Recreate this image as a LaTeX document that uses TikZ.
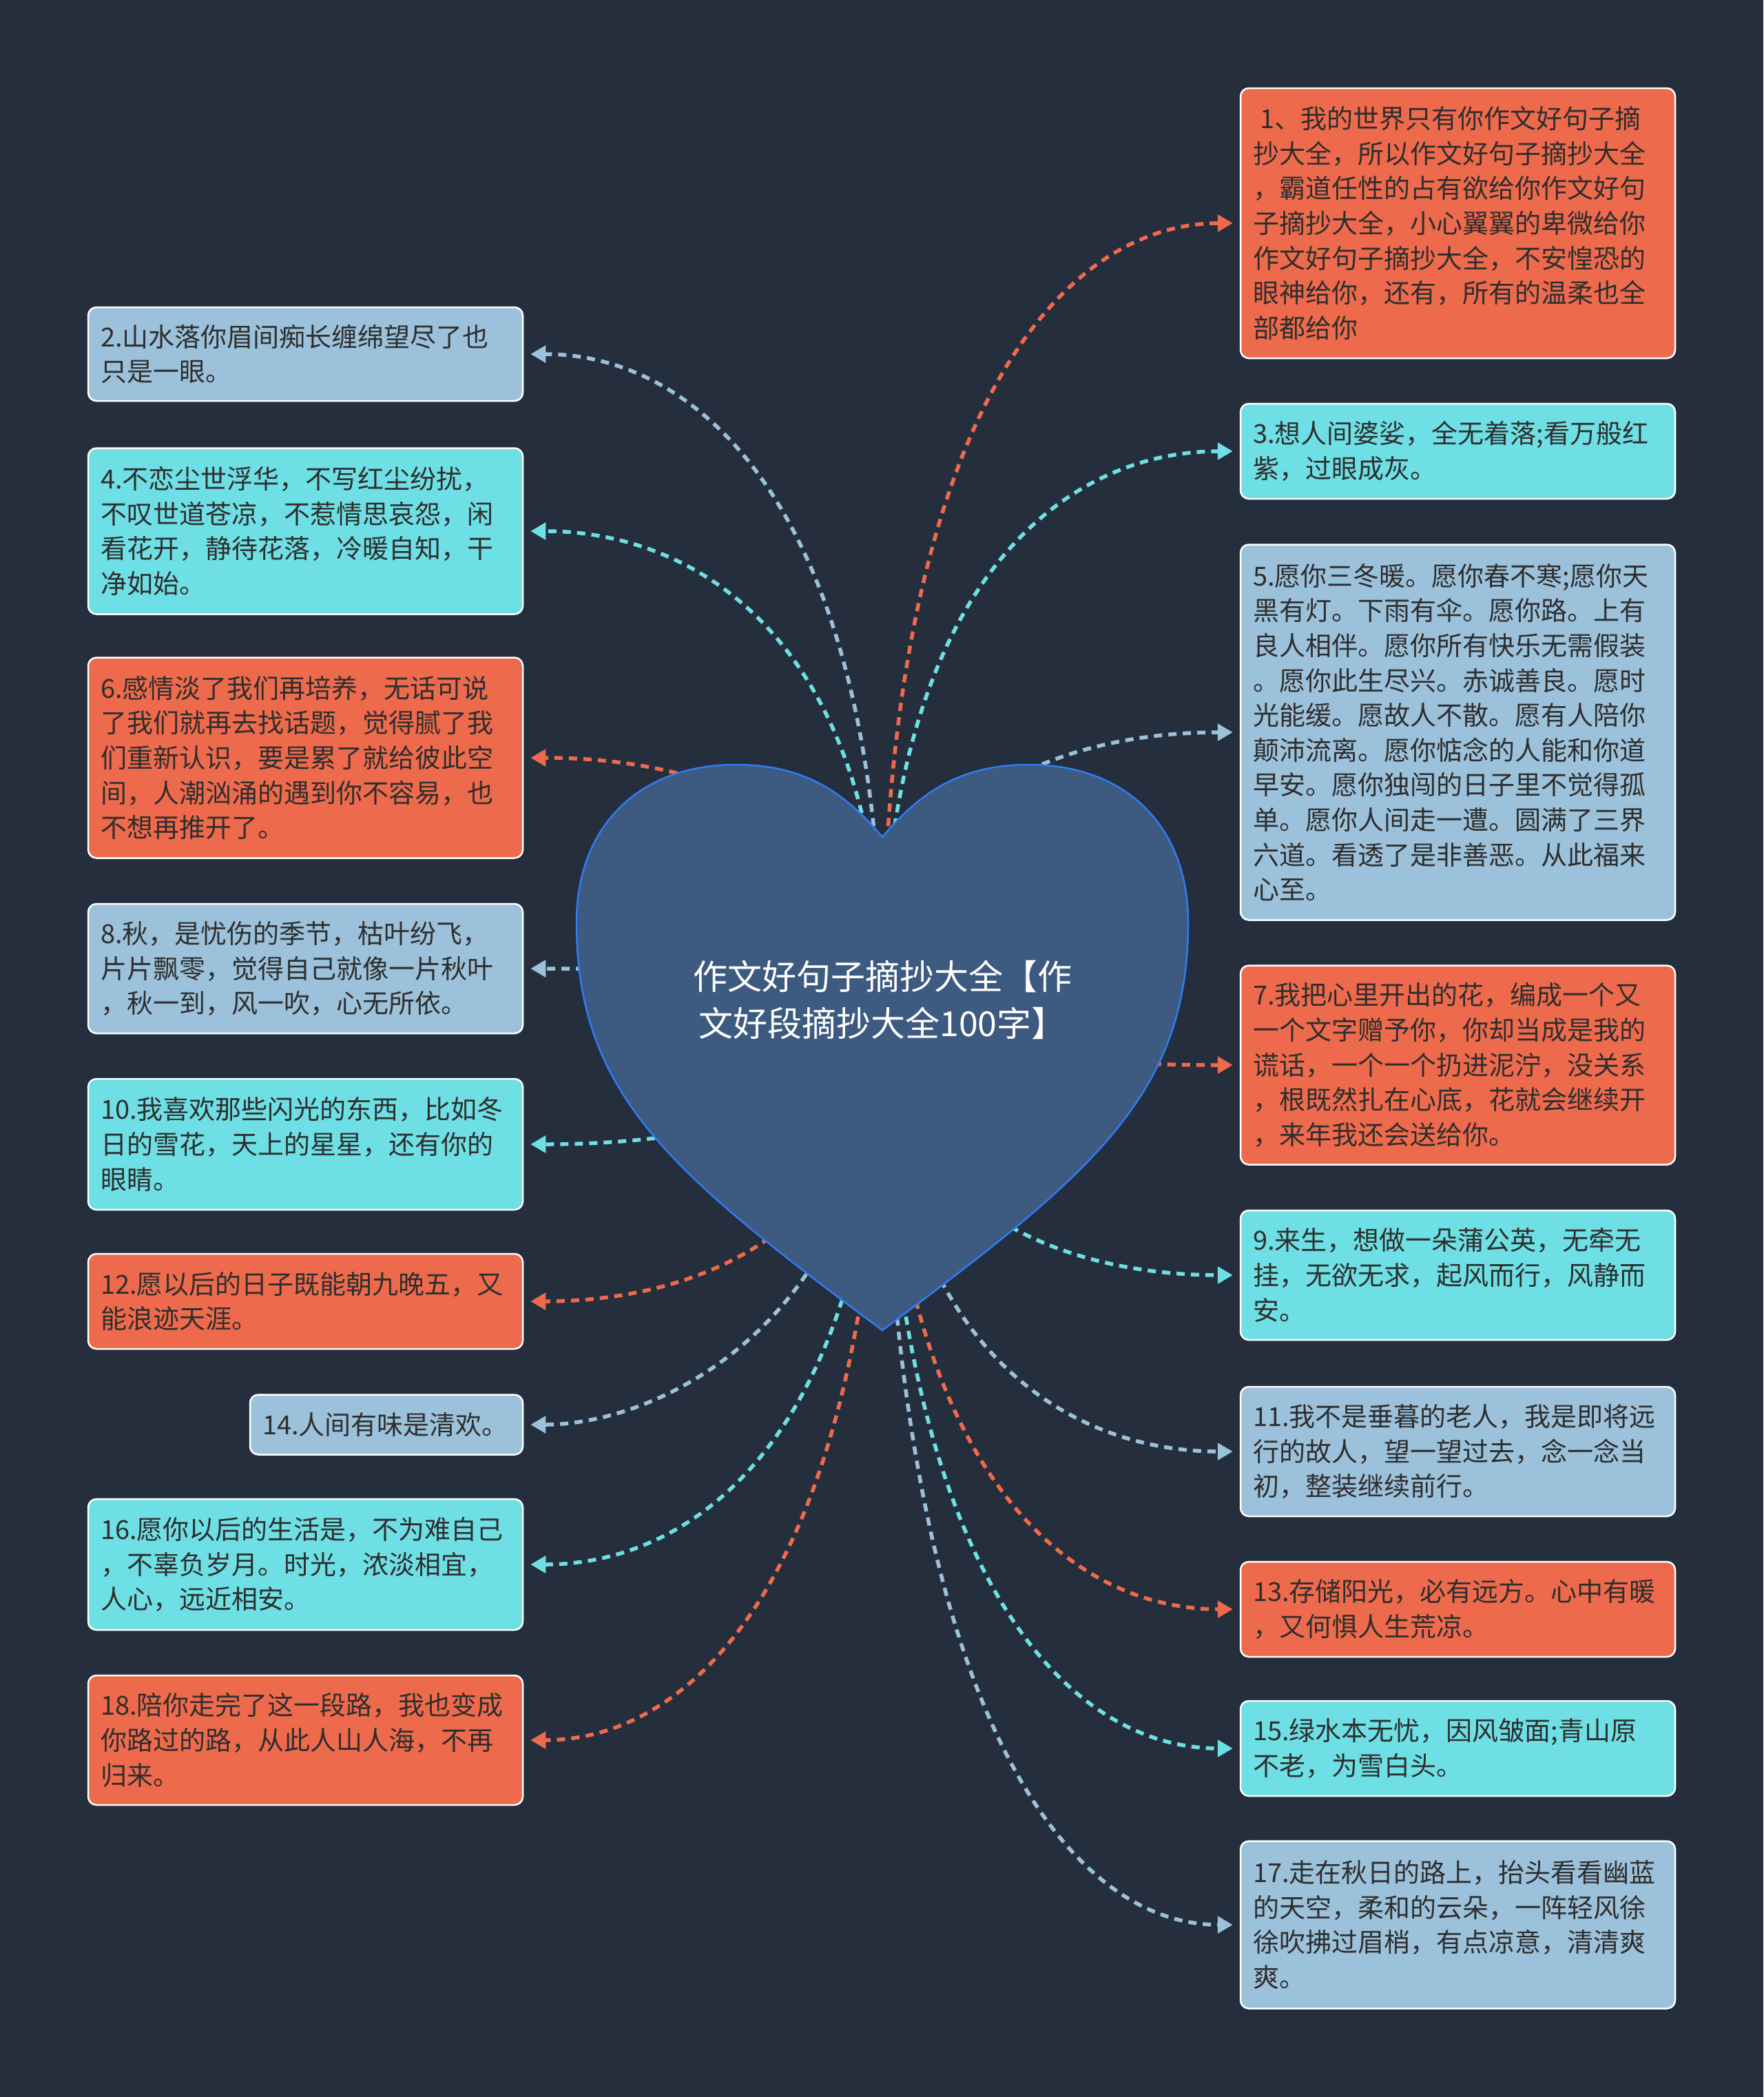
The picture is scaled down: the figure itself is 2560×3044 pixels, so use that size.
\documentclass[tikz,border=0pt]{standalone}
\usepackage{fontspec}
\usetikzlibrary{arrows.meta}
\newfontfamily\cjk{Noto Sans CJK SC}
\definecolor{bgc}{HTML}{252E3C}
\definecolor{cred}{HTML}{EE6A4C}
\definecolor{ccyan}{HTML}{6EDFE4}
\definecolor{cblue}{HTML}{9CC1DA}
\definecolor{heartfill}{HTML}{3D5A80}
\definecolor{heartline}{HTML}{2F7CF6}
\definecolor{txt}{HTML}{2E2E2E}
\pgfdeclarelayer{bglayer}
\pgfdeclarelayer{connlayer}
\pgfdeclarelayer{heartlayer}
\pgfsetlayers{bglayer,connlayer,heartlayer,main}
\tikzset{
  box/.style={draw=white, line width=2.5pt, rounded corners=12pt, text=txt,
    font=\cjk\fontsize{38pt}{50.6pt}\selectfont, align=left, text width=595pt,
    inner xsep=18pt, inner ysep=0pt, anchor=center},
  redbox/.style={box, fill=cred},
  cyanbox/.style={box, fill=ccyan},
  bluebox/.style={box, fill=cblue},
  conn/.style={line width=5.5pt, dash pattern=on 12pt off 9pt,
    -{Triangle[length=22pt,width=24pt]}, shorten >=10pt},
}
\begin{document}
\begin{tikzpicture}[x=1pt,y=-1pt]
\useasboundingbox (0,0) rectangle (2560,3044);
\begin{pgfonlayer}{bglayer}
\fill[bgc] (0,0) rectangle (2560,3044);
\end{pgfonlayer}

% root text
\node[font=\cjk\fontsize{50pt}{68pt}\selectfont, text=white, align=center] (root) at (1281,1451)
  {作文好句子摘抄大全【作\\文好段摘抄大全100字】};

% right column
\node[redbox, minimum height=392pt] (r1) at (2116.5,324) {\hspace*{10pt}1、我的世界只有你作文好句子摘\\抄大全，所以作文好句子摘抄大全\\，霸道任性的占有欲给你作文好句\\子摘抄大全，小心翼翼的卑微给你\\作文好句子摘抄大全，不安惶恐的\\眼神给你，还有，所有的温柔也全\\部都给你};
\node[cyanbox, minimum height=138pt] (r3) at (2116.5,655) {3.想人间婆娑，全无着落;看万般红\\紫，过眼成灰。};
\node[bluebox, minimum height=545pt] (r5) at (2116.5,1063) {5.愿你三冬暖。愿你春不寒;愿你天\\黑有灯。下雨有伞。愿你路。上有\\良人相伴。愿你所有快乐无需假装\\。愿你此生尽兴。赤诚善良。愿时\\光能缓。愿故人不散。愿有人陪你\\颠沛流离。愿你惦念的人能和你道\\早安。愿你独闯的日子里不觉得孤\\单。愿你人间走一遭。圆满了三界\\六道。看透了是非善恶。从此福来\\心至。};
\node[redbox, minimum height=289pt] (r7) at (2116.5,1546) {7.我把心里开出的花，编成一个又\\一个文字赠予你，你却当成是我的\\谎话，一个一个扔进泥泞，没关系\\，根既然扎在心底，花就会继续开\\，来年我还会送给你。};
\node[cyanbox, minimum height=188pt] (r9) at (2116.5,1851) {9.来生，想做一朵蒲公英，无牵无\\挂，无欲无求，起风而行，风静而\\安。};
\node[bluebox, minimum height=188pt] (r11) at (2116.5,2107) {11.我不是垂暮的老人，我是即将远\\行的故人，望一望过去，念一念当\\初，整装继续前行。};
\node[redbox, minimum height=138pt] (r13) at (2116.5,2336) {13.存储阳光，必有远方。心中有暖\\，又何惧人生荒凉。};
\node[cyanbox, minimum height=138pt] (r15) at (2116.5,2538) {15.绿水本无忧，因风皱面;青山原\\不老，为雪白头。};
\node[bluebox, minimum height=243pt] (r17) at (2116.5,2794) {17.走在秋日的路上，抬头看看幽蓝\\的天空，柔和的云朵，一阵轻风徐\\徐吹拂过眉梢，有点凉意，清清爽\\爽。};

% left column
\node[bluebox, minimum height=136pt] (l2) at (443.5,514) {2.山水落你眉间痴长缠绵望尽了也\\只是一眼。};
\node[cyanbox, minimum height=241pt] (l4) at (443.5,771) {4.不恋尘世浮华，不写红尘纷扰，\\不叹世道苍凉，不惹情思哀怨，闲\\看花开，静待花落，冷暖自知，干\\净如始。};
\node[redbox, minimum height=291pt] (l6) at (443.5,1100) {6.感情淡了我们再培养，无话可说\\了我们就再去找话题，觉得腻了我\\们重新认识，要是累了就给彼此空\\间，人潮汹涌的遇到你不容易，也\\不想再推开了。};
\node[bluebox, minimum height=188pt] (l8) at (443.5,1406) {8.秋，是忧伤的季节，枯叶纷飞，\\片片飘零，觉得自己就像一片秋叶\\，秋一到，风一吹，心无所依。};
\node[cyanbox, minimum height=190pt] (l10) at (443.5,1661) {10.我喜欢那些闪光的东西，比如冬\\日的雪花，天上的星星，还有你的\\眼睛。};
\node[redbox, minimum height=138pt] (l12) at (443.5,1889) {12.愿以后的日子既能朝九晚五，又\\能浪迹天涯。};
\node[bluebox, minimum height=87pt, text width=360pt] (l14) at (561,2068) {14.人间有味是清欢。};
\node[cyanbox, minimum height=190pt] (l16) at (443.5,2271) {16.愿你以后的生活是，不为难自己\\，不辜负岁月。时光，浓淡相宜，\\人心，远近相安。};
\node[redbox, minimum height=188pt] (l18) at (443.5,2526) {18.陪你走完了这一段路，我也变成\\你路过的路，从此人山人海，不再\\归来。};

% connectors
\begin{pgfonlayer}{connlayer}
\draw[conn, cred]  (root.center) .. controls +(0,-845) and +(-260,0) .. (r1.west);
\draw[conn, ccyan] (root.center) .. controls +(0,-597) and +(-260,0) .. (r3.west);
\draw[conn, cblue] (root.center) .. controls +(0,-291) and +(-260,0) .. (r5.west);
\draw[conn, cred]  (root.center) .. controls +(0,71)   and +(-260,0) .. (r7.west);
\draw[conn, ccyan] (root.center) .. controls +(0,300)  and +(-260,0) .. (r9.west);
\draw[conn, cblue] (root.center) .. controls +(0,492)  and +(-260,0) .. (r11.west);
\draw[conn, cred]  (root.center) .. controls +(0,664)  and +(-260,0) .. (r13.west);
\draw[conn, ccyan] (root.center) .. controls +(0,815)  and +(-260,0) .. (r15.west);
\draw[conn, cblue] (root.center) .. controls +(0,1007) and +(-260,0) .. (r17.west);
\draw[conn, cblue] (root.center) .. controls +(0,-703) and +(260,0) .. (l2.east);
\draw[conn, ccyan] (root.center) .. controls +(0,-510) and +(260,0) .. (l4.east);
\draw[conn, cred]  (root.center) .. controls +(0,-263) and +(260,0) .. (l6.east);
\draw[conn, cblue] (root.center) .. controls +(0,-34)  and +(260,0) .. (l8.east);
\draw[conn, ccyan] (root.center) .. controls +(0,158)  and +(260,0) .. (l10.east);
\draw[conn, cred]  (root.center) .. controls +(0,329)  and +(260,0) .. (l12.east);
\draw[conn, cblue] (root.center) .. controls +(0,463)  and +(200,0) .. (l14.east);
\draw[conn, ccyan] (root.center) .. controls +(0,615)  and +(260,0) .. (l16.east);
\draw[conn, cred]  (root.center) .. controls +(0,806)  and +(260,0) .. (l18.east);
\end{pgfonlayer}

% heart
\begin{pgfonlayer}{heartlayer}
\filldraw[fill=heartfill, draw=heartline, line width=2.5pt]
  (1281,1215) .. controls (1336,1150) and (1394,1110) .. (1494,1110)
  .. controls (1634,1110) and (1725,1199) .. (1725,1339)
  .. controls (1725,1589) and (1586,1704) .. (1281,1931)
  .. controls (976,1704) and (837,1589) .. (837,1339)
  .. controls (837,1199) and (928,1110) .. (1068,1110)
  .. controls (1168,1110) and (1226,1150) .. (1281,1215) -- cycle;
\end{pgfonlayer}
\end{tikzpicture}
\end{document}
